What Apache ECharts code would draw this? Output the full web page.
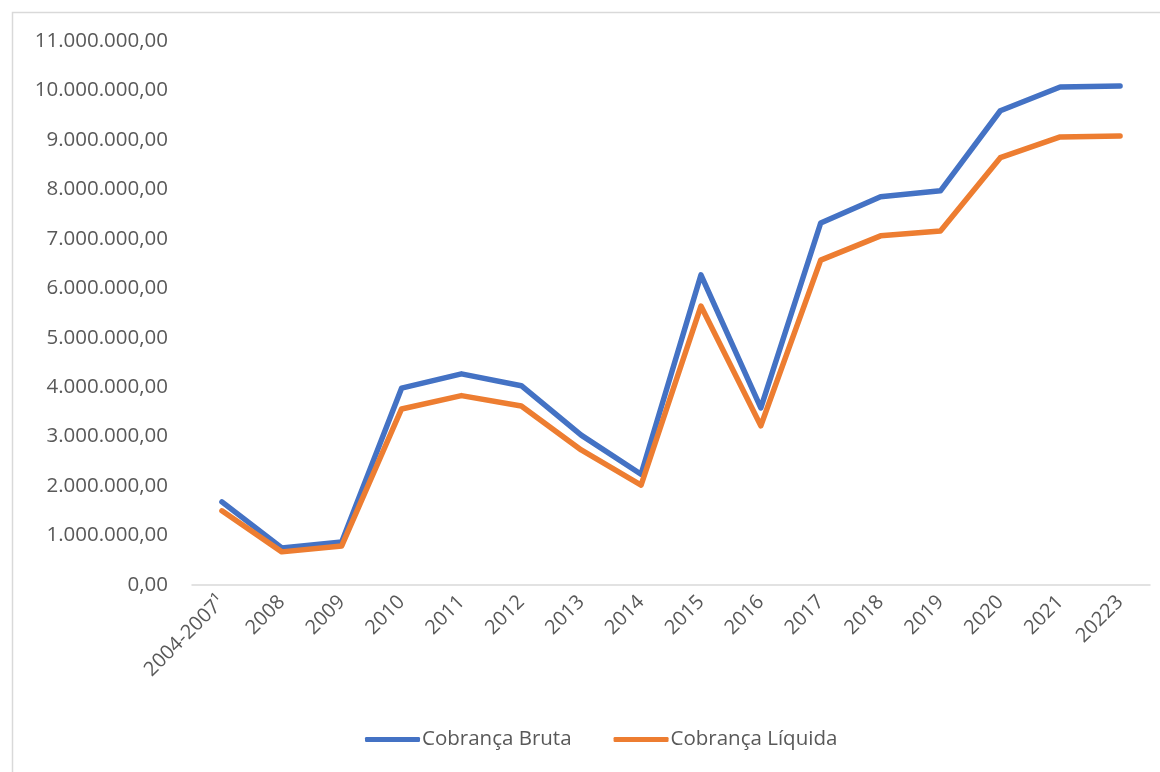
<!DOCTYPE html>
<html><head><meta charset="utf-8">
<script src="https://cdn.jsdelivr.net/npm/echarts@6/dist/echarts.min.js"></script>
<style>html,body{margin:0;padding:0;background:#fff}#c{width:1160px;height:772px}</style>
</head><body><div id="c"></div>
<script>
const categories = ['2004-2007¹','2008','2009','2010','2011','2012','2013','2014','2015','2016','2017','2018','2019','2020','2021','20223'];
const cobrancaBruta = [1680000,750000,870000,3980000,4270000,4030000,3030000,2240000,6270000,3580000,7320000,7850000,7970000,9590000,10070000,10090000];
const cobrancaLiquida = [1500000,670000,790000,3560000,3830000,3620000,2730000,2020000,5640000,3220000,6570000,7060000,7160000,8640000,9060000,9080000];
const seriesNames = ['Cobrança Bruta','Cobrança Líquida'];

function fmt(v){
  const s = Math.round(v).toString().replace(/\B(?=(\d{3})+(?!\d))/g,'.');
  return s + ',00';
}
const font = 'Open Sans, Liberation Sans, sans-serif';
const chart = echarts.init(document.getElementById('c'));
chart.setOption({
  animation:false,
  backgroundColor:'#fff',
  graphic:[{type:'rect',shape:{x:12.5,y:12.5,width:1200,height:800},style:{fill:'none',stroke:'#d9d9d9',lineWidth:1.5},silent:true}],
  grid:{left:192,right:10,top:41,bottom:187},
  legend:{bottom:17,left:360,itemWidth:55,itemHeight:5,itemGap:42,
    textStyle:{fontFamily:font,fontSize:20.5,color:'#595959',padding:[0,0,0,-3]},
    icon:'roundRect',
    data:seriesNames},
  xAxis:{type:'category',data:categories,boundaryGap:true,
    axisLine:{lineStyle:{color:'#d9d9d9',width:1.5}},axisTick:{show:false},
    axisLabel:{rotate:45,color:'#595959',fontFamily:font,fontSize:20,margin:14,interval:0}},
  yAxis:{type:'value',min:0,max:11000000,interval:1000000,
    axisLine:{show:false},axisTick:{show:false},splitLine:{show:false},
    axisLabel:{formatter:fmt,color:'#595959',fontFamily:font,fontSize:20.5,margin:24}},
  series:[
    {name:seriesNames[0],type:'line',data:cobrancaBruta,symbol:'none',lineStyle:{color:'#4472c4',width:5.5,cap:'round',join:'round'},itemStyle:{color:'#4472c4'}},
    {name:seriesNames[1],type:'line',data:cobrancaLiquida,symbol:'none',lineStyle:{color:'#ed7d31',width:5.5,cap:'round',join:'round'},itemStyle:{color:'#ed7d31'}}
  ]
});
</script></body></html>
